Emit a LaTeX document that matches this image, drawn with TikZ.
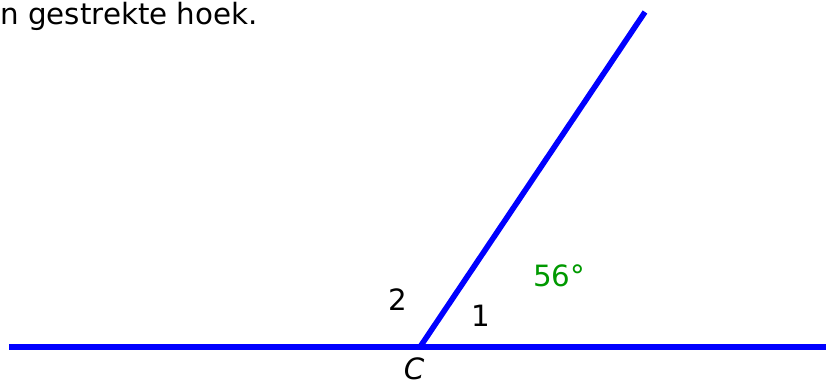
\documentclass[tikz,border=0pt]{standalone}
\usepackage{fontspec}
\setmainfont{DejaVu Sans}
\usepackage{xcolor}
\usepackage{tikz}
\definecolor{LineBlue}{RGB}{0,0,255}
\definecolor{AngleGreen}{RGB}{0,153,0}

\begin{document}
\begin{tikzpicture}[x=0.75pt,y=-0.75pt,
    leg/.style={LineBlue, line width=4.2pt},
    lbl/.style={font=\fontsize{22}{26}\selectfont, inner sep=0pt, anchor=base}]
  \useasboundingbox (0,0) rectangle (836,385);
  \clip (0,0) rectangle (836,385);
  % points of the straight angle and the ray
  \coordinate (L) at (9,347);
  \coordinate (R) at (826,347);
  \coordinate (C) at (420,347);
  \coordinate (T) at (645,12);
  \draw[leg] (L) -- (R);
  \draw[leg] (C) -- (T);
  \node[lbl, anchor=base west] (title) at (0,25) {n gestrekte hoek.};
  \node[lbl] (two) at (398,310) {2};
  \node[lbl] (one) at (481,326) {1};
  \node[lbl, text=AngleGreen] (deg) at (559,286) {56°};
  \node[lbl] (nameC) at (414,379.5) {\itshape C};
\end{tikzpicture}
\end{document}
